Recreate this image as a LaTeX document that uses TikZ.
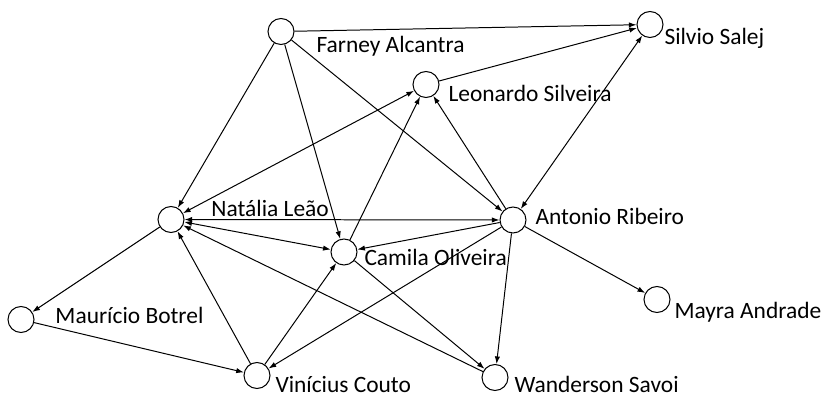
\documentclass[tikz,border=0pt]{standalone}
\usepackage{fontspec}
\setmainfont{Carlito}
\usetikzlibrary{arrows.meta, positioning, calc}

\begin{document}
\begin{tikzpicture}[x=0.03cm,y=-0.03cm,line width=0.85pt,
    person/.style={circle,draw,fill=white,minimum size=0.78cm,inner sep=0pt},
    lbl/.style={anchor=base west,inner sep=0pt,font=\fontsize{20}{22}\selectfont},
    link/.style={-{Latex[length=2.3mm,width=1.6mm]}},
    twoway/.style={{Latex[length=2.3mm,width=1.6mm]}-{Latex[length=2.3mm,width=1.6mm]}}]
        \useasboundingbox (0,0) rectangle (831,397);
        % people
        \node[person] (fa) at (281,31.5) {};
        \node[person] (ss) at (650,24.5) {};
        \node[person] (ls) at (426,84.5) {};
        \node[person] (nl) at (171,219.5) {};
        \node[person] (ar) at (513,220) {};
        \node[person] (co) at (344,252) {};
        \node[person] (mb) at (21,319.5) {};
        \node[person] (ma) at (657,299.5) {};
        \node[person] (vc) at (257,375.5) {};
        \node[person] (ws) at (495,377.5) {};
        % names
        \node[lbl] (fa-l) at ($(fa)+(35,21)$) {Farney Alcantra};
        \node[lbl] (ss-l) at ($(ss)+(14,20.5)$) {Silvio Salej};
        \node[lbl] (ls-l) at ($(ls)+(22,17.5)$) {Leonardo Silveira};
        \node[lbl] (nl-l) at ($(nl)+(40,-2.5)$) {Natália Leão};
        \node[lbl] (ar-l) at ($(ar)+(22,5)$) {Antonio Ribeiro};
        \node[lbl] (co-l) at ($(co)+(20,13)$) {Camila Oliveira};
        \node[lbl] (mb-l) at ($(mb)+(34,3.5)$) {Maurício Botrel};
        \node[lbl] (ma-l) at ($(ma)+(17,18.5)$) {Mayra Andrade};
        \node[lbl] (vc-l) at ($(vc)+(18,16.5)$) {Vinícius Couto};
        \node[lbl] (ws-l) at ($(ws)+(19,14.5)$) {Wanderson Savoi};
        % links
        \draw[link] (fa)--(ss);
        \draw[link] (ls)--(ss);
        \draw[link] (fa)--(nl);
        \draw[link] (fa)--(co);
        \draw[link] (fa)--(ar);
        \draw[twoway] (nl)--(ls);
        \draw[link] (co)--(ls);
        \draw[link] (ar)--(ls);
        \draw[twoway] (ar)--(ss);
        \draw[twoway] (nl)--(ar);
        \draw[twoway] (nl)--(co);
        \draw[link] (ar)--(co);
        \draw[link] (ar)--(vc);
        \draw[link] (ar)--(ws);
        \draw[link] (ar)--(ma);
        \draw[link] (co)--(ws);
        \draw[link] (vc)--(co);
        \draw[link] (vc)--(nl);
        \draw[link] (ws)--(nl);
        \draw[link] (nl)--(mb);
        \draw[link] (mb)--(vc);
\end{tikzpicture}
\end{document}
